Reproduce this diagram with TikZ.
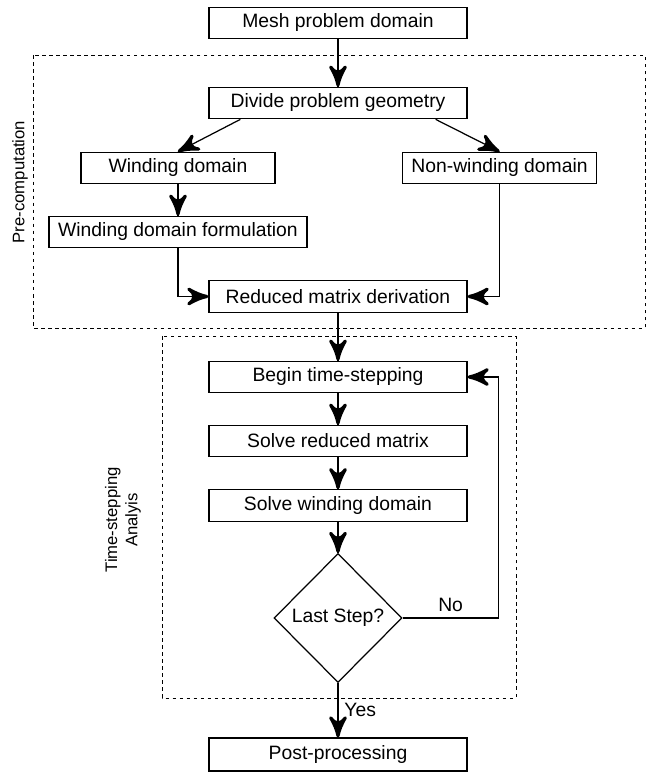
\documentclass[tikz,border=0pt]{standalone}
\usepackage{fontspec}
\setmainfont{Liberation Sans}
\usetikzlibrary{arrows}
\usetikzlibrary{decorations.markings}
\usetikzlibrary{shapes.geometric}
\tikzset{->/.style = {decoration={markings,
                                  mark=at position 1 with {\arrow[scale=2.6]{stealth'}}},
                      postaction={decorate}}}
\tikzset{box/.style = {draw, minimum height = 0.63cm, inner sep = 2pt,
                       font = \fontsize{11}{13}\selectfont}}
\tikzset{wide/.style = {box, minimum width = 5.16cm}}
\tikzset{half/.style = {box, minimum width = 3.88cm}}
\tikzset{decide/.style = {draw, diamond, inner sep = 0,
                          minimum width = 2.56cm, minimum height = 2.58cm,
                          font = \fontsize{11}{13}\selectfont}}
\tikzset{frame/.style = {dash pattern = on 2pt off 2pt, line width = 0.55pt}}
\tikzset{side/.style = {rotate = 90, align = center, font = \fontsize{9.5}{11.5}\selectfont}}

\begin{document}
\begin{tikzpicture}[line width = 0.7pt]
    \useasboundingbox (0, 0) rectangle (12.98, 15.44);

    \draw [frame] (0.66, 14.34) rectangle (12.9, 8.88);
    \draw [frame] (3.24, 8.72) rectangle (10.32, 1.48);
    \node [side] (pre) at (0.4, 11.8) {Pre-computation};
    \node [side] (ts) at (2.46, 5.04) {Time-stepping\\Analyis};

    \node [wide] (mesh) at (6.76, 14.98) {Mesh problem domain};
    \node [wide] (div) at (6.76, 13.38) {Divide problem geometry};
    \node [half] (wind) at (3.56, 12.08) {Winding domain};
    \node [half] (nwind) at (9.99, 12.08) {Non-winding domain};
    \node [wide] (form) at (3.56, 10.8) {Winding domain formulation};
    \node [wide] (red) at (6.76, 9.51) {Reduced matrix derivation};
    \node [wide] (begin) at (6.76, 7.9) {Begin time-stepping};
    \node [wide] (solr) at (6.76, 6.62) {Solve reduced matrix};
    \node [wide] (solw) at (6.76, 5.33) {Solve winding domain};
    \node [decide] (last) at (6.76, 3.08) {Last Step?};
    \node [wide, minimum height = 0.66cm] (post) at (6.76, 0.35) {Post-processing};

    \draw [->] (mesh) -- (div);
    \draw [->] ([xshift = 0.64cm]div.south west) -- (wind.north);
    \draw [->] ([xshift = -0.64cm]div.south east) -- (nwind.north);
    \draw [->] (wind) -- (form);
    \draw [->] (form.south) |- (red.west);
    \draw [->] (nwind.south) |- (red.east);
    \draw [->] (red) -- (begin);
    \draw [->] (begin) -- (solr);
    \draw [->] (solr) -- (solw);
    \draw [->] (solw) -- (last);
    \draw [->] (last.east) -- node [above, font = \fontsize{11}{13}\selectfont] {No} ++(1.92, 0)
        |- (begin.east);
    \draw [->] (last.south) -- node [right, pos = 0.5, font = \fontsize{11}{13}\selectfont] {Yes}
        (post.north);
  \end{tikzpicture}
\end{document}
